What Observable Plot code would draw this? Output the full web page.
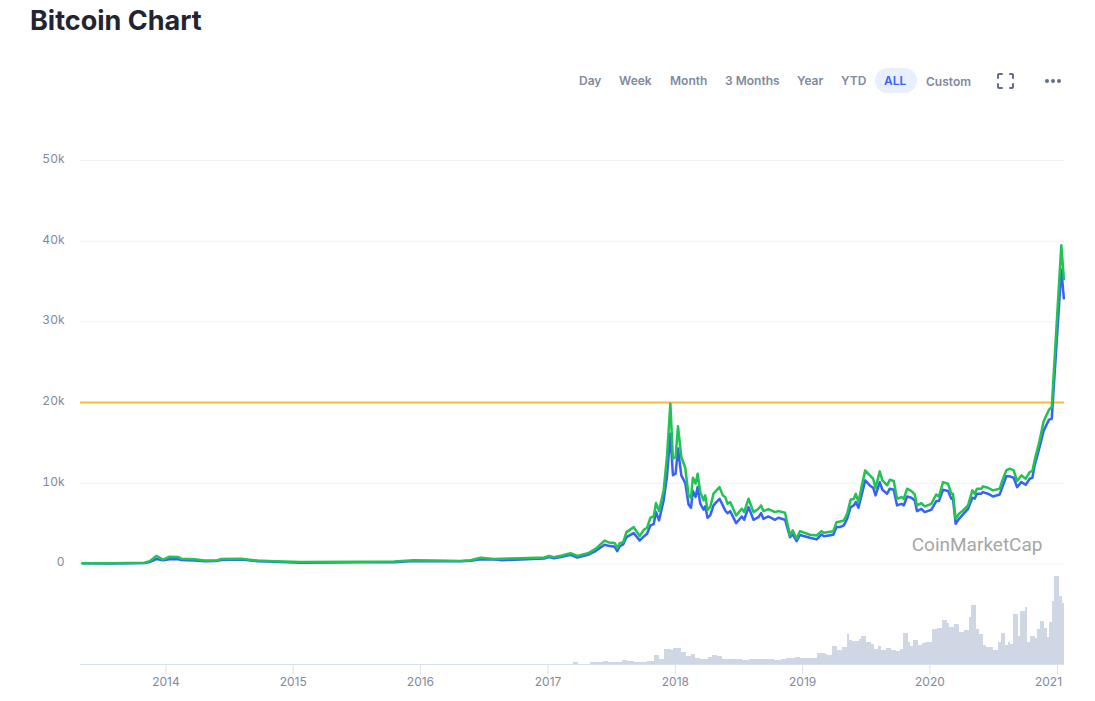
<!DOCTYPE html>
<html>
<head>
<meta charset="utf-8">
<script src="https://cdn.jsdelivr.net/npm/d3@7"></script>
<script src="https://cdn.jsdelivr.net/npm/@observablehq/plot@0.6"></script>
<style>
html,body{margin:0;padding:0;background:#fff;overflow:hidden}
#page{position:relative;width:1095px;height:701px;font-family:Inter,sans-serif}
#page svg.plot{position:absolute;left:0;overflow:visible;background:transparent}
h1{position:absolute;left:30px;top:4px;margin:0;font:700 27px/34px Inter,sans-serif;color:#222531}
.b{position:absolute;top:73px;font:600 12px/16px Inter,sans-serif;color:#808a9d;white-space:nowrap}
#pill{position:absolute;left:875px;top:68px;width:42px;height:25px;border-radius:13px;background:#e8effe}
</style>
</head>
<body>
<div id="page">
  <h1>Bitcoin Chart</h1>
  <span class="b" style="left:579px">Day</span>
  <span class="b" style="left:619px">Week</span>
  <span class="b" style="left:670px">Month</span>
  <span class="b" style="left:725px">3 Months</span>
  <span class="b" style="left:797px">Year</span>
  <span class="b" style="left:841px">YTD</span>
  <div id="pill"></div>
  <span class="b" style="left:884px;color:#3861fb">ALL</span>
  <span class="b" style="left:926px;top:74px">Custom</span>
  <svg style="position:absolute;left:996px;top:72px" width="20" height="18" fill="none" stroke="#616e85" stroke-width="2" stroke-linecap="round">
    <path d="M2 6V3a1 1 0 0 1 1-1h3M14 2h2a1 1 0 0 1 1 1v3M17 12v3a1 1 0 0 1-1 1h-2M6 16H3a1 1 0 0 1-1-1v-3"/>
  </svg>
  <svg style="position:absolute;left:1044px;top:77px" width="18" height="8" fill="#616e85">
    <circle cx="3" cy="4" r="2"/><circle cx="9" cy="4" r="2"/><circle cx="15" cy="4" r="2"/>
  </svg>
  <div id="charts"></div>
</div>
<script>
// Decimal years of the points
const years = [2013.345,2013.572,2013.833,2013.872,2013.925,2013.977,2014.029,2014.094,2014.12,2014.225,2014.303,2014.395,2014.434,2014.591,2014.721,2014.852,2015.061,2015.531,2015.792,2015.949,2016.315,2016.393,2016.471,2016.576,2016.63,2016.785,2016.97,2017.007,2017.046,2017.11,2017.177,2017.23,2017.32,2017.373,2017.444,2017.477,2017.524,2017.543,2017.564,2017.59,2017.616,2017.673,2017.72,2017.752,2017.778,2017.804,2017.83,2017.848,2017.872,2017.908,2017.934,2017.961,2017.981,2018.002,2018.021,2018.047,2018.078,2018.104,2018.123,2018.138,2018.159,2018.175,2018.196,2018.222,2018.235,2018.253,2018.274,2018.3,2018.347,2018.373,2018.392,2018.41,2018.431,2018.478,2018.522,2018.541,2018.575,2018.614,2018.653,2018.674,2018.692,2018.731,2018.783,2018.81,2018.862,2018.901,2018.922,2018.953,2018.979,2019.058,2019.11,2019.149,2019.167,2019.241,2019.267,2019.293,2019.324,2019.35,2019.377,2019.403,2019.418,2019.439,2019.463,2019.492,2019.528,2019.554,2019.573,2019.606,2019.627,2019.664,2019.685,2019.716,2019.742,2019.776,2019.795,2019.821,2019.855,2019.881,2019.899,2019.933,2019.959,2020.011,2020.05,2020.071,2020.103,2020.142,2020.168,2020.181,2020.202,2020.228,2020.26,2020.299,2020.333,2020.351,2020.369,2020.403,2020.416,2020.455,2020.494,2020.547,2020.573,2020.599,2020.625,2020.657,2020.683,2020.717,2020.751,2020.782,2020.803,2020.821,2020.86,2020.892,2020.934,2020.955,2021.03,2021.05];
// Upper series (green), thousands of USD
const high = [.1,.09,.15,.35,1,.55,.9,.88,.66,.58,.42,.42,.62,.66,.42,.33,.25,.27,.3,.46,.38,.46,.78,.62,.64,.72,.8,1,.85,1.05,1.34,1,1.38,1.88,2.9,2.67,2.6,2,2.58,2.71,3.95,4.57,3.45,4.24,4.49,5.73,5.89,7.55,6.56,9.12,13.26,19.87,13.05,13.26,17.06,13.26,11.93,8.5,8.21,10.69,9.95,11.19,8.91,7.88,8.5,6.72,7.05,8.71,9.53,8.5,8.29,7.46,7.67,6.02,6.84,6.43,8.09,6.43,6.84,7.26,6.55,6.8,6.43,6.55,6.35,3.54,4.16,3.12,4.07,3.62,3.54,4.07,3.87,4.07,5.19,5.27,5.4,6.22,7.96,8.09,8.7,7.67,9.53,11.6,10.98,10.57,9.41,11.48,10.36,9.74,10.44,10.28,8.09,8.29,8.09,9.33,9.04,8.62,7.26,7.55,7.13,7.46,8.62,8.37,10.15,9.95,8.71,8.71,5.6,6.22,6.64,7.26,9.12,8.71,9.33,9.33,9.62,9.45,9.12,9.33,10.57,11.6,11.81,11.6,10.28,10.98,10.57,11.39,11.52,12.84,15.32,17.72,19.13,19.46,39.5,35.3];
// Lower series (blue), thousands of USD
const low = [.08,.07,.13,.25,.62,.45,.6,.6,.5,.42,.35,.36,.5,.55,.35,.28,.17,.22,.22,.37,.33,.4,.6,.55,.48,.56,.68,.85,.72,.89,1.14,.8,1.18,1.6,2.38,2.25,2.13,1.6,2.2,2.42,3.33,3.83,2.92,3.4,3.75,4.77,4.94,6.44,5.4,7.88,10.8,16.15,11,11.2,14.3,10.98,10.03,7.38,6.97,9.04,8.3,9.53,7.47,6.72,7.14,5.73,6.02,7.26,8.09,7.26,6.63,6.3,6.55,5.07,5.89,5.48,7.05,5.48,5.8,6.3,5.6,5.89,5.48,5.73,5.48,3.33,3.66,2.83,3.6,3.25,3.05,3.66,3.45,3.62,4.57,4.57,4.78,5.6,7.05,7.26,7.67,6.97,8.5,10.36,9.74,9.45,8.5,10.15,9.2,8.71,9.33,9.2,7.26,7.46,7.26,8.37,8.21,7.88,6.55,6.84,6.43,6.72,7.8,7.8,9.2,9.04,8.09,8.09,4.98,5.6,6.14,6.84,8.21,8.09,8.71,8.71,8.91,8.71,8.37,8.62,9.74,10.86,10.86,10.69,9.53,10.15,9.82,10.57,10.69,12.22,14.5,16.56,17.89,18,36.5,32.9];
// Weekly volume from February 2017, billions of USD
const volumeStart = "2017-02-02";
const volumes = [1,1,1,1,1,1,7,7,1,1,1,1,1,7,7,7,7,7,12,12,8,8,8,8,8,8,16,16,11,12,12,8,8,8,8,8,12,12,12,37,37,20,20,59,59,59,55,64,64,64,49,49,32,32,39,39,24,24,20,20,20,29,29,37,37,32,32,20,20,20,20,20,20,19,19,16,16,16,19,19,19,19,19,19,19,19,19,19,16,16,16,19,19,23,23,23,23,27,27,23,23,23,23,23,23,23,
43,43,43,41,37,37,72,72,56,56,67,67,119,96,91,91,91,99,113,113,88,88,80,59,59,72,56,56,63,63,56,56,53,53,59,123,123,89,72,96,96,76,76,83,89,89,89,139,139,143,143,176,176,163,149,149,159,159,127,127,136,136,187,236,236,139,119,119,76,67,67,69,56,56,89,123,123,76,88,80,200,200,113,213,213,227,89,113,113,103,140,172,172,145,109,167,253,352,352,272,243];
const priceTicks = [0,10,20,30,40,50];
const tickYears = [2014,2015,2016,2017,2018,2019,2020,2021];
const lastLabelYear = 2021;
const athLevel = 20;
const xStart = 2013.329, xEnd = 2021.055;

const toDate = y => {
  const f = Math.floor(y), a = Date.UTC(f,0,1), b = Date.UTC(f+1,0,1);
  return new Date(a + (y-f)*(b-a));
};
const rows = years.map((y,i)=>({date:toDate(y),high:high[i],low:low[i]}));
const d0 = new Date(volumeStart+"T00:00:00Z");
const vols = volumes.map((v,i)=>({
  x1:d3.utcDay.offset(d0,i*7), x2:d3.utcDay.offset(d0,(i+1)*7), v}));
const xDomain = [toDate(xStart),toDate(xEnd)];
const font = {fontFamily:"Inter,sans-serif",fontSize:12,background:"transparent"};
const labelColor = "#808a9d";

const price = Plot.plot({
  width:1095,height:570,marginLeft:80,marginRight:31,marginTop:160,marginBottom:6.5,
  style:font,
  x:{domain:xDomain,axis:null,type:"utc"},
  y:{domain:[0,50],axis:null},
  marks:[
    Plot.ruleY(priceTicks,{stroke:"#eff2f5",strokeWidth:1}),
    Plot.axisY(priceTicks,{anchor:"left",tickSize:0,tickPadding:16,label:null,dy:-1.5,
      tickFormat:d=>d===0?"0":d+"k",fill:labelColor,fontSize:12}),
    Plot.ruleY([athLevel],{stroke:"#f7bb3a",strokeWidth:2}),
    Plot.line(rows,{x:"date",y:"low",stroke:"#3861fb",strokeWidth:2.5}),
    Plot.line(rows,{x:"date",y:"high",stroke:"#1fc452",strokeWidth:2.5}),
    Plot.text(["CoinMarketCap"],{frameAnchor:"bottom-right",dx:-22,dy:-13,fill:"#a6a6a6",
      fontSize:19,fontFamily:"Roboto,sans-serif",textAnchor:"end"})
  ]
});
price.style.top="0px";

const tickDates = tickYears.map(toDate);
const labelFor = d=>d3.utcFormat("%Y")(d);
const isLast = d=>d.getUTCFullYear()===lastLabelYear;
const volume = Plot.plot({
  width:1095,height:131,marginLeft:80,marginRight:31,marginTop:6,marginBottom:37,
  style:font,
  x:{domain:xDomain,type:"utc",axis:null},
  y:{domain:[0,352],axis:null},
  marks:[
    Plot.rectY(vols,{x1:"x1",x2:"x2",y:"v",fill:"#cfd6e4",shapeRendering:"crispEdges"}),
    Plot.ruleY([0],{stroke:"#d8e0ef",strokeWidth:1}),
    Plot.axisX(tickDates,{anchor:"bottom",tickSize:10,label:null,stroke:"#d8e0ef",tickFormat:()=>""}),
    Plot.text(tickDates.filter(d=>!isLast(d)),{x:d=>d,frameAnchor:"bottom",dy:21,text:labelFor,
      fill:labelColor,fontSize:12}),
    Plot.text(tickDates.filter(isLast),{x:d=>d,frameAnchor:"bottom",dy:21,dx:-9,text:labelFor,
      fill:labelColor,fontSize:12})
  ]
});
volume.style.top="570px";

document.getElementById("charts").append(price,volume);
</script>
</body>
</html>
